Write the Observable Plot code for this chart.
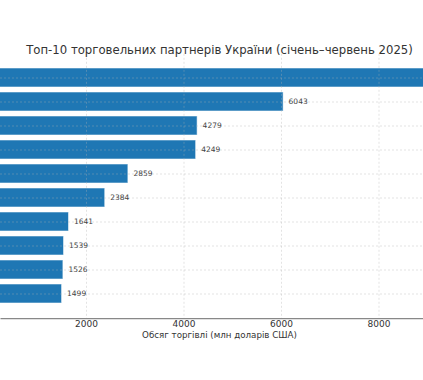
<!DOCTYPE html>
<html>
<head>
<meta charset="utf-8">
<script src="https://cdn.jsdelivr.net/npm/d3@7"></script>
<script src="https://cdn.jsdelivr.net/npm/@observablehq/plot@0.6"></script>
<style>
  html, body { margin: 0; padding: 0; background: #fff; }
  #chart { width: 423px; height: 380px; overflow: hidden; }
</style>
</head>
<body>
<div id="chart"></div>
<script>
const title = "Топ-10 торговельних партнерів України (січень–червень 2025)";
const xLabel = "Обсяг торгівлі (млн доларів США)";
const partners = ["Китай", "Польща", "Німеччина", "Туреччина", "Італія", "США", "Іспанія", "Угорщина", "Індія", "Словаччина"];
const values = [9006, 6043, 4279, 4249, 2859, 2384, 1641, 1539, 1526, 1499];
const gridTicks = [0, 2000, 4000, 6000, 8000];
const tickLabels = [2000, 4000, 6000, 8000];

const data = partners.map((p, i) => ({partner: p, value: values[i]}));
const xMax = d3.max(values) * 1.05;

const W = 423, H = 380, MT = 53.8, MB = 61.8;
const plot = Plot.plot({
  width: W,
  height: H,
  marginLeft: 0,
  marginRight: 0,
  marginTop: MT,
  marginBottom: MB,
  style: {fontFamily: "DejaVu Sans", background: "#fff", overflow: "hidden"},
  x: {domain: [0, xMax], range: [-11.5, 449.5]},
  y: {domain: partners, paddingInner: 0.2, paddingOuter: 0.49},
  marks: [
    Plot.barX(data, {y: "partner", x: "value", fill: "#1f77b4", stroke: "#ffffff", strokeOpacity: 0.55, strokeWidth: 1}),
    Plot.gridX(gridTicks, {stroke: "#b0b0b0", strokeOpacity: 0.45, strokeWidth: 0.8, strokeDasharray: "2,2"}),
    Plot.gridY(partners, {stroke: "#b0b0b0", strokeOpacity: 0.45, strokeWidth: 0.8, strokeDasharray: "2,2"}),
    // labels beyond the visible right edge (the longest bar) are not shown in the cropped view
    Plot.text(data.filter(d => d.value < 8000), {y: "partner", x: "value", text: d => String(d.value), dx: 5, textAnchor: "start", fontSize: 7.5, fill: "#444"}),
    Plot.frame({stroke: "#888", strokeWidth: 1.2, strokeDasharray: `0,${W + (H - MT - MB)},${W},${H}`}),
    Plot.axisX({ticks: tickLabels, tickFormat: d3.format("d"), tickSize: 0, tickPadding: 2, fontSize: 9, fill: "#333", label: null}),
    Plot.axisY({ticks: [], label: null}),
    Plot.text([xLabel], {frameAnchor: "bottom", dx: 7.5, dy: 19, fontSize: 8.7, fill: "#333"}),
    Plot.text([title], {frameAnchor: "top", dx: 7.5, dy: -9, fontSize: 11.7, fill: "#333"})
  ]
});
document.getElementById("chart").appendChild(plot);
</script>
</body>
</html>
